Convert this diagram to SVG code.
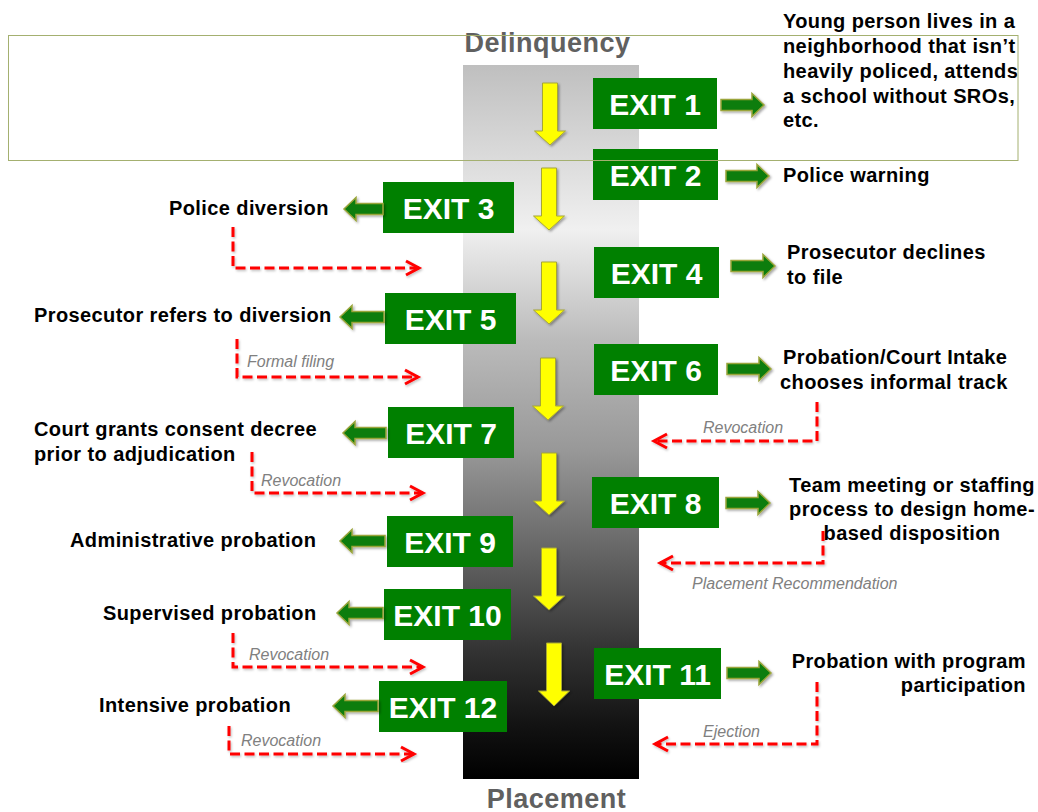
<svg xmlns="http://www.w3.org/2000/svg" width="1038" height="812" viewBox="0 0 1038 812">
<defs>
<linearGradient id="bar" x1="0" y1="0" x2="0" y2="1">
<stop offset="0" stop-color="#bfbfbf"/>
<stop offset="0.23" stop-color="#f0f0f0"/>
<stop offset="0.385" stop-color="#bbbbbb"/>
<stop offset="0.54" stop-color="#989898"/>
<stop offset="0.68" stop-color="#666666"/>
<stop offset="0.82" stop-color="#333333"/>
<stop offset="0.93" stop-color="#111111"/>
<stop offset="1" stop-color="#000000"/>
</linearGradient>
<filter id="sh" x="-30%" y="-30%" width="160%" height="160%">
<feDropShadow dx="1.5" dy="1.5" stdDeviation="1.2" flood-color="#000" flood-opacity="0.35"/>
</filter>
<filter id="rsh" x="-10%" y="-30%" width="120%" height="160%">
<feDropShadow dx="1" dy="1.5" stdDeviation="1" flood-color="#000" flood-opacity="0.25"/>
</filter>
<marker id="chev" markerUnits="userSpaceOnUse" markerWidth="20" markerHeight="20" viewBox="-16 -10 20 20" refX="0" refY="0" orient="auto">
<path d="M-13,-7 L0,0 L-13,7" fill="none" stroke="#ff0000" stroke-width="3" stroke-linejoin="miter"/>
</marker>
</defs>
<style>
.box{fill:#008000}
.bt{font-family:"Liberation Sans",Arial,sans-serif;font-weight:bold;font-size:30px;fill:#ffffff;text-anchor:middle}
.lbl{font-family:"Liberation Sans",Arial,sans-serif;font-weight:bold;font-size:20px;letter-spacing:0.4px;fill:#000000}
.it{font-family:"Liberation Sans",Arial,sans-serif;font-style:italic;font-size:16px;fill:#808080}
.ttl{font-family:"Liberation Sans",Arial,sans-serif;font-weight:bold;font-size:27px;letter-spacing:0.5px;fill:#606060;text-anchor:middle}
.ya{fill:#ffff00;stroke:#a6a636;stroke-width:1;filter:url(#sh)}
.ga{fill:#0f7d0f;stroke:#9aa53a;stroke-width:1.5;filter:url(#sh)}
.rd{fill:none;stroke:#ff0000;stroke-width:3;stroke-dasharray:10 4.5;marker-end:url(#chev);filter:url(#rsh)}
</style>
<rect width="1038" height="812" fill="#ffffff"/>
<g id="spine">
<rect x="463" y="65" width="176" height="714" fill="url(#bar)"/>
<text class="ttl" x="547.5" y="52">Delinquency</text>
<text class="ttl" x="556.5" y="808">Placement</text>
</g>
<g id="flow-arrows">
<path class="ya" d="M542.5,83 H557.5 V131 H565.5 L550,145 L534.5,131 H542.5 Z"/>
<path class="ya" d="M541.5,168 H556.5 V216 H564.5 L549,230 L533.5,216 H541.5 Z"/>
<path class="ya" d="M541.5,262 H556.5 V310 H564.5 L549,324 L533.5,310 H541.5 Z"/>
<path class="ya" d="M540.5,358 H555.5 V406 H563.5 L548,420 L532.5,406 H540.5 Z"/>
<path class="ya" d="M541.5,453 H556.5 V501 H564.5 L549,515 L533.5,501 H541.5 Z"/>
<path class="ya" d="M541.5,548 H556.5 V596 H564.5 L549,610 L533.5,596 H541.5 Z"/>
<path class="ya" d="M546.5,643 H561.5 V691 H569.5 L554,706 L538.5,691 H546.5 Z"/>
</g>
<g id="exit1"><rect class="box" x="593" y="78" width="124" height="51"/><text class="bt" x="655" y="114.5">EXIT 1</text></g>
<g id="exit2"><rect class="box" x="593" y="149" width="125" height="51"/><text class="bt" x="655.5" y="185.5">EXIT 2</text></g>
<g id="exit3"><rect class="box" x="383" y="182" width="131" height="51"/><text class="bt" x="448.5" y="218.5">EXIT 3</text></g>
<g id="exit4"><rect class="box" x="594" y="247" width="125" height="51"/><text class="bt" x="656.5" y="283.5">EXIT 4</text></g>
<g id="exit5"><rect class="box" x="385" y="293" width="131" height="51"/><text class="bt" x="450.5" y="329.5">EXIT 5</text></g>
<g id="exit6"><rect class="box" x="594" y="344" width="124" height="51"/><text class="bt" x="656" y="380.5">EXIT 6</text></g>
<g id="exit7"><rect class="box" x="388" y="407" width="126" height="51"/><text class="bt" x="451" y="443.5">EXIT 7</text></g>
<g id="exit8"><rect class="box" x="592" y="477" width="127" height="51"/><text class="bt" x="655.5" y="513.5">EXIT 8</text></g>
<g id="exit9"><rect class="box" x="387" y="516" width="126" height="51"/><text class="bt" x="450" y="552.5">EXIT 9</text></g>
<g id="exit10"><rect class="box" x="384" y="589" width="127" height="51"/><text class="bt" x="447.5" y="625.5">EXIT 10</text></g>
<g id="exit11"><rect class="box" x="594" y="648" width="127" height="51"/><text class="bt" x="657.5" y="684.5">EXIT 11</text></g>
<g id="exit12"><rect class="box" x="379" y="681" width="128" height="51"/><text class="bt" x="443" y="717.5">EXIT 12</text></g>
<g id="outcomes">
<text class="lbl" x="783" y="28">Young person lives in a</text>
<text class="lbl" x="783" y="53">neighborhood that isn’t</text>
<text class="lbl" x="783" y="78">heavily policed, attends</text>
<text class="lbl" x="783" y="103">a school without SROs,</text>
<text class="lbl" x="783" y="127">etc.</text>
<text class="lbl" x="783" y="182">Police warning</text>
<text class="lbl" x="169" y="215">Police diversion</text>
<text class="lbl" x="787" y="259">Prosecutor declines</text>
<text class="lbl" x="787" y="284">to file</text>
<text class="lbl" x="34" y="322">Prosecutor refers to diversion</text>
<text class="lbl" x="783" y="364">Probation/Court Intake</text>
<text class="lbl" x="780" y="389">chooses informal track</text>
<text class="lbl" x="34" y="436">Court grants consent decree</text>
<text class="lbl" x="34" y="461">prior to adjudication</text>
<text class="lbl" x="912" y="492" text-anchor="middle">Team meeting or staffing</text>
<text class="lbl" x="912" y="516" text-anchor="middle">process to design home-</text>
<text class="lbl" x="912" y="540" text-anchor="middle">based disposition</text>
<text class="lbl" x="70" y="547">Administrative probation</text>
<text class="lbl" x="103" y="620">Supervised probation</text>
<text class="lbl" x="1026" y="668" text-anchor="end">Probation with program</text>
<text class="lbl" x="1026" y="692" text-anchor="end">participation</text>
<text class="lbl" x="99" y="712">Intensive probation</text>
</g>
<g id="connectors">
<path class="ga" d="M721,99.5 H752 V93.5 L764,105 L752,116.5 V110.5 H721 Z"/>
<path class="ga" d="M726,170.5 H757 V164.5 L769,176 L757,187.5 V181.5 H726 Z"/>
<path class="ga" d="M383,203.5 H356 V197.5 L344,209 L356,220.5 V214.5 H383 Z"/>
<path class="ga" d="M731,260.5 H763 V254.5 L775,266 L763,277.5 V271.5 H731 Z"/>
<path class="ga" d="M384,311.5 H352 V305.5 L340,317 L352,328.5 V322.5 H384 Z"/>
<path class="ga" d="M727,363.5 H759 V357.5 L771,369 L759,380.5 V374.5 H727 Z"/>
<path class="ga" d="M386,427.5 H355 V421.5 L343,433 L355,444.5 V438.5 H386 Z"/>
<path class="ga" d="M726,497.5 H758 V491.5 L770,503 L758,514.5 V508.5 H726 Z"/>
<path class="ga" d="M385,535.5 H352 V529.5 L340,541 L352,552.5 V546.5 H385 Z"/>
<path class="ga" d="M383,607.5 H349 V601.5 L337,613 L349,624.5 V618.5 H383 Z"/>
<path class="ga" d="M727,667.5 H759 V661.5 L771,673 L759,684.5 V678.5 H727 Z"/>
<path class="ga" d="M378,700.5 H345 V694.5 L333,706 L345,717.5 V711.5 H378 Z"/>
<path class="rd" d="M233,227 V268 H419"/>
<path class="rd" d="M237,339 V377 H418"/>
<path class="rd" d="M252,452 V493 H423"/>
<path class="rd" d="M233,633 V667 H423"/>
<path class="rd" d="M229,726 V754 H414"/>
<path class="rd" d="M817,402 V441 H654"/>
<path class="rd" d="M823,531 V563 H660"/>
<path class="rd" d="M817,682 V744 H655"/>
<text class="it" x="247" y="367">Formal filing</text>
<text class="it" x="261" y="486">Revocation</text>
<text class="it" x="249" y="660">Revocation</text>
<text class="it" x="241" y="746">Revocation</text>
<text class="it" x="703" y="433">Revocation</text>
<text class="it" x="692" y="589">Placement Recommendation</text>
<text class="it" x="703" y="737">Ejection</text>
</g>
<rect id="frame" x="8.5" y="35.5" width="1009.5" height="125" fill="none" stroke="#a4b070" stroke-width="1"/>
</svg>
